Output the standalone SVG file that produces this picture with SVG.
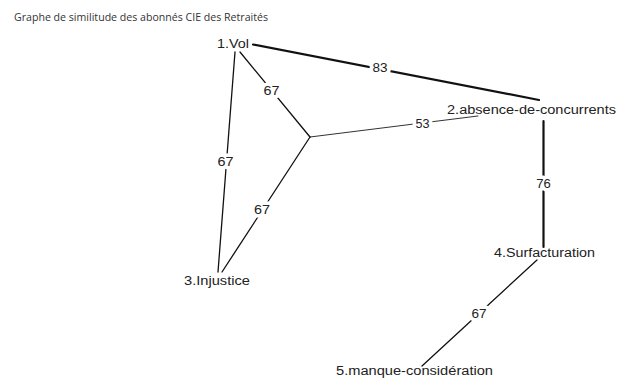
<svg xmlns="http://www.w3.org/2000/svg" width="617" height="378" viewBox="0 0 617 378">
  <style>
    .title { font-family: "Open Sans", "Liberation Sans", sans-serif; font-size: 11px; fill: #333; }
    .node text { font-family: "Liberation Sans", Arial, sans-serif; font-size: 12.5px; fill: #222; }
    .edge { stroke: #111; fill: none; stroke-linecap: round; }
    .strong { stroke-width: 2.2; }
    .mid { stroke-width: 1.3; }
    .weak { stroke-width: 1; stroke: #333; }
    .weight { font-family: "Liberation Sans", Arial, sans-serif; font-size: 12.5px; fill: #222;
              text-anchor: middle; stroke: #fff; stroke-width: 7px; stroke-linejoin: round; paint-order: stroke; }
  </style>

  <rect width="617" height="378" fill="#fff"/>

  <text class="title" x="14" y="21" textLength="254" lengthAdjust="spacingAndGlyphs">Graphe de similitude des abonnés CIE des Retraités</text>

  <!-- similarity edges with their co-occurrence weights -->
  <g id="connectors">
    <line class="edge strong" x1="253" y1="44.5" x2="539" y2="100"/>
    <line class="edge mid" x1="240" y1="52" x2="310" y2="137"/>
    <line class="edge weak" x1="310" y1="137" x2="478" y2="116"/>
    <line class="edge mid" x1="235" y1="52" x2="218" y2="272"/>
    <line class="edge mid" x1="310" y1="137" x2="222" y2="272"/>
    <line class="edge strong" x1="543.5" y1="121" x2="543.5" y2="247"/>
    <line class="edge mid" x1="537" y1="260" x2="422" y2="366"/>

    <text class="weight" x="380" y="72" textLength="15" lengthAdjust="spacingAndGlyphs">83</text>
    <text class="weight" x="271.5" y="94.5" textLength="16" lengthAdjust="spacingAndGlyphs">67</text>
    <text class="weight" x="422.5" y="127.5" textLength="14" lengthAdjust="spacingAndGlyphs">53</text>
    <text class="weight" x="225.5" y="166" textLength="16" lengthAdjust="spacingAndGlyphs">67</text>
    <text class="weight" x="262" y="213.5" textLength="16" lengthAdjust="spacingAndGlyphs">67</text>
    <text class="weight" x="543.5" y="187.5" textLength="14.5" lengthAdjust="spacingAndGlyphs">76</text>
    <text class="weight" x="479" y="317.5" textLength="15" lengthAdjust="spacingAndGlyphs">67</text>
  </g>

  <g id="n1" class="node">
    <text x="217" y="47.5" textLength="32" lengthAdjust="spacingAndGlyphs">1.Vol</text>
  </g>
  <g id="n2" class="node">
    <text x="447" y="113.5" textLength="169" lengthAdjust="spacingAndGlyphs">2.absence-de-concurrents</text>
  </g>
  <g id="n3" class="node">
    <text x="184" y="285" textLength="66" lengthAdjust="spacingAndGlyphs">3.Injustice</text>
  </g>
  <g id="n4" class="node">
    <text x="494" y="257" textLength="101" lengthAdjust="spacingAndGlyphs">4.Surfacturation</text>
  </g>
  <g id="n5" class="node">
    <text x="336" y="375" textLength="157" lengthAdjust="spacingAndGlyphs">5.manque-considération</text>
  </g>
</svg>
